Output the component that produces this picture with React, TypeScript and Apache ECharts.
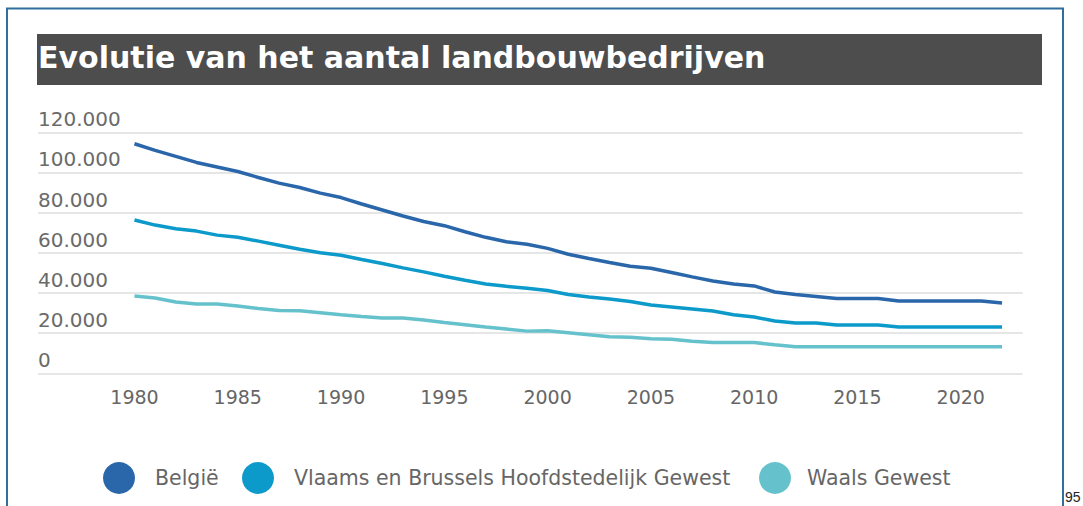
import React, { useEffect, useRef } from "react";
import * as echarts from "echarts";

const years = [
  1980, 1981, 1982, 1983, 1984, 1985, 1986, 1987, 1988, 1989,
  1990, 1991, 1992, 1993, 1994, 1995, 1996, 1997, 1998, 1999,
  2000, 2001, 2002, 2003, 2004, 2005, 2006, 2007, 2008, 2009,
  2010, 2011, 2012, 2013, 2014, 2015, 2016, 2017, 2018, 2019,
  2020, 2021, 2022,
];

const belgie = [
  114300, 111000, 108000, 105000, 102700, 100500, 97500, 94700, 92500, 89700,
  87500, 84300, 81300, 78300, 75600, 73500, 70500, 67700, 65500, 64300,
  62200, 59300, 57200, 55200, 53300, 52300, 50200, 48000, 46000, 44500,
  43500, 40500, 39200, 38200, 37200, 37200, 37200, 36000, 36000, 36000,
  36000, 36000, 35000,
];

const vlaams = [
  76300, 73800, 72000, 70800, 68800, 67700, 65800, 63800, 61800, 60000,
  58800, 56700, 54700, 52500, 50500, 48300, 46300, 44500, 43300, 42300,
  41200, 39200, 38000, 37000, 35800, 34000, 33000, 32000, 31000, 29200,
  28000, 26000, 25000, 25000, 24000, 24000, 24000, 23000, 23000, 23000,
  23000, 23000, 23000,
];

const waals = [
  38500, 37500, 35500, 34500, 34500, 33500, 32300, 31300, 31200, 30200,
  29200, 28300, 27500, 27500, 26500, 25300, 24200, 23000, 22000, 21000,
  21200, 20200, 19200, 18200, 18000, 17200, 17000, 16000, 15300, 15300,
  15300, 14200, 13200, 13200, 13200, 13200, 13200, 13200, 13200, 13200,
  13200, 13200, 13200,
];

const xTickLabels = [1980, 1985, 1990, 1995, 2000, 2005, 2010, 2015, 2020];

const seriesNames = [
  "België",
  "Vlaams en Brussels Hoofdstedelijk Gewest",
  "Waals Gewest",
];
const seriesColors = ["#2a66aa", "#0c9acb", "#65c2cc"];
const seriesValues = [belgie, vlaams, waals];

const titleText = "Evolutie van het aantal landbouwbedrijven";
const pageNumber = "95";

const FONT = "DejaVu Sans";

export default function App() {
  const ref = useRef<HTMLDivElement>(null);

  useEffect(() => {
    if (!ref.current) return;
    const chart = echarts.init(ref.current, null, { renderer: "svg" });

    const legendLefts = [103, 242, 759];
    const legendPads = [15, 15, 11];

    const option: any = {
      animation: false,
      backgroundColor: "#ffffff",
      title: {
        text: titleText,
        left: 38,
        top: 42,
        padding: 0,
        textStyle: {
          color: "#ffffff",
          fontFamily: FONT,
          fontWeight: "bold",
          fontSize: 30,
        },
      },
      graphic: [
        {
          type: "rect",
          z: -10,
          shape: { x: 37, y: 34, width: 1005, height: 51 },
          style: { fill: "#4d4d4d" },
          silent: true,
        },
        {
          type: "polyline",
          shape: {
            points: [
              [7, 506],
              [7, 8.5],
              [1063, 8.5],
              [1063, 506],
            ],
          },
          style: { stroke: "#2f6e9e", lineWidth: 2, fill: "none" },
          silent: true,
        },
        {
          type: "text",
          x: 1065,
          y: 497,
          style: {
            text: pageNumber,
            fill: "#222222",
            font: '14px "Liberation Sans"',
            verticalAlign: "middle",
            align: "left",
          },
          silent: true,
        },
      ],
      legend: seriesNames.map((name, i) => ({
        data: [name],
        left: legendLefts[i],
        top: 462,
        padding: 0,
        icon: "circle",
        itemWidth: 32,
        itemHeight: 32,
        textStyle: {
          fontFamily: FONT,
          fontSize: 20.5,
          color: "#666666",
          padding: [0, 0, 0, legendPads[i]],
        },
      })),
      grid: {
        left: 38,
        top: 132.3,
        right: 1083 - 1022.7,
        bottom: 506 - 373.3,
        containLabel: false,
        outerBoundsMode: "none",
      },
      xAxis: {
        type: "value",
        min: 1975.33,
        max: 2023,
        axisLine: { show: false },
        axisTick: { show: false },
        splitLine: { show: false },
        axisLabel: {
          customValues: xTickLabels,
          margin: 14,
          fontFamily: FONT,
          fontSize: 19,
          color: "#666666",
          formatter: (v: number) => String(v),
        },
      },
      yAxis: {
        type: "value",
        min: 0,
        max: 120000,
        interval: 20000,
        axisLine: { show: false },
        axisTick: { show: false },
        splitLine: { lineStyle: { color: "#dedede", width: 1.5 } },
        axisLabel: {
          inside: true,
          margin: 0,
          align: "left",
          verticalAlign: "bottom",
          lineHeight: 26,
          fontFamily: FONT,
          fontSize: 20,
          color: "#6a6a6a",
          formatter: (v: number) =>
            String(v).replace(/\B(?=(\d{3})+(?!\d))/g, "."),
        },
      },
      series: seriesNames.map((name, i) => ({
        name,
        type: "line",
        color: seriesColors[i],
        showSymbol: false,
        symbol: "none",
        lineStyle: { width: 3.5, color: seriesColors[i] },
        data: years.map((y, j) => [y, seriesValues[i][j]]),
      })),
    };

    chart.setOption(option);
    return () => chart.dispose();
  }, []);

  return (
    <div
      ref={ref}
      style={{
        position: "fixed",
        left: 0,
        top: 0,
        width: 1083,
        height: 506,
      }}
    />
  );
}
